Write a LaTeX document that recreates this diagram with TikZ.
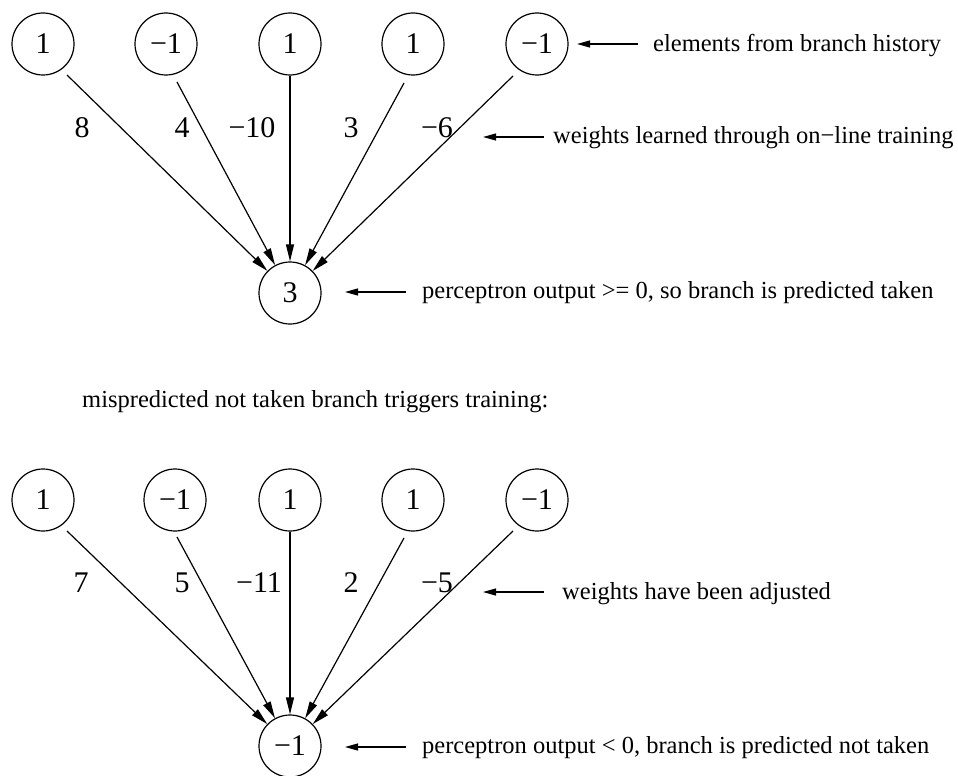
\documentclass[tikz,border=0pt]{standalone}
\usepackage{fontspec}
\setmainfont{Liberation Serif}
\usetikzlibrary{arrows.meta,calc}
\begin{document}
\begin{tikzpicture}[x=1pt,y=-1pt,
  unit/.style={circle,draw,line width=1.2pt,minimum size=62pt,inner sep=0pt,font=\fontsize{30}{32}\selectfont},
  wlabel/.style={anchor=base,inner sep=0pt,font=\fontsize{30}{32}\selectfont},
  note/.style={anchor=base west,inner sep=0pt,font=\fontsize{24.5}{28}\selectfont},
  conn/.style={line width=1.2pt,-{Triangle[length=17pt,width=8pt]}},
  ann/.style={line width=1.2pt,-{Triangle[length=13pt,width=7pt]}}]
\useasboundingbox (0,0) rectangle (958,776);

% ---------- top perceptron ----------
\node[unit] (c1) at (43,44) {1};
\node[unit] (c2) at (166,44) {−1};
\node[unit] (c3) at (290,44) {1};
\node[unit] (c4) at (413,44) {1};
\node[unit] (c5) at (537,44) {−1};
\node[unit] (o1) at (290,293) {3};

\draw[conn] ($(c1)+(24,31)$) -- (o1);
\draw[conn] ($(c2)+(11,38)$) -- (o1);
\draw[conn] (c3) -- (o1);
\draw[conn] ($(c4)+(-9,39)$) -- (o1);
\draw[conn] ($(c5)+(-24,32)$) -- (o1);

\node[wlabel] (w1) at (82,137) {8};
\node[wlabel] (w2) at (182,137) {4};
\node[wlabel] (w3) at (252,137) {−10};
\node[wlabel] (w4) at (351,137) {3};
\node[wlabel] (w5) at (437,137) {−6};

\node[note] (t1) at (653,52) {elements from branch history};
\node[note] (t2) at (553,143) {weights learned through on−line training};
\node[note] (t3) at (422,298) {perceptron output >= 0, so branch is predicted taken};

\coordinate (a1s) at (638,44);  \coordinate (a1e) at (577,44);
\coordinate (a2s) at (544,137); \coordinate (a2e) at (483,137);
\coordinate (a3s) at (406,292); \coordinate (a3e) at (345,292);
\draw[ann] (a1s) -- (a1e);
\draw[ann] (a2s) -- (a2e);
\draw[ann] (a3s) -- (a3e);

% ---------- caption ----------
\node[note] (mid) at (82,407) {mispredicted not taken branch triggers training:};

% ---------- bottom perceptron ----------
\node[unit] (d1) at (43,500) {1};
\node[unit] (d2) at (175,500) {−1};
\node[unit] (d3) at (290,500) {1};
\node[unit] (d4) at (413,500) {1};
\node[unit] (d5) at (537,500) {−1};
\node[unit] (o2) at (290,746) {−1};

\draw[conn] ($(d1)+(24,31)$) -- (o2);
\draw[conn] ($(d2)+(2,37)$) -- (o2);
\draw[conn] (d3) -- (o2);
\draw[conn] ($(d4)+(-9,38)$) -- (o2);
\draw[conn] ($(d5)+(-24,31)$) -- (o2);

\node[wlabel] (v1) at (81,592) {7};
\node[wlabel] (v2) at (182,592) {5};
\node[wlabel] (v3) at (259,592) {−11};
\node[wlabel] (v4) at (351,592) {2};
\node[wlabel] (v5) at (437,592) {−5};

\node[note] (t4) at (562,599) {weights have been adjusted};
\node[note] (t5) at (422,753) {perceptron output < 0, branch is predicted not taken};

\coordinate (a4s) at (544,592); \coordinate (a4e) at (483,592);
\coordinate (a5s) at (406,747); \coordinate (a5e) at (345,747);
\draw[ann] (a4s) -- (a4e);
\draw[ann] (a5s) -- (a5e);
\end{tikzpicture}
\end{document}
